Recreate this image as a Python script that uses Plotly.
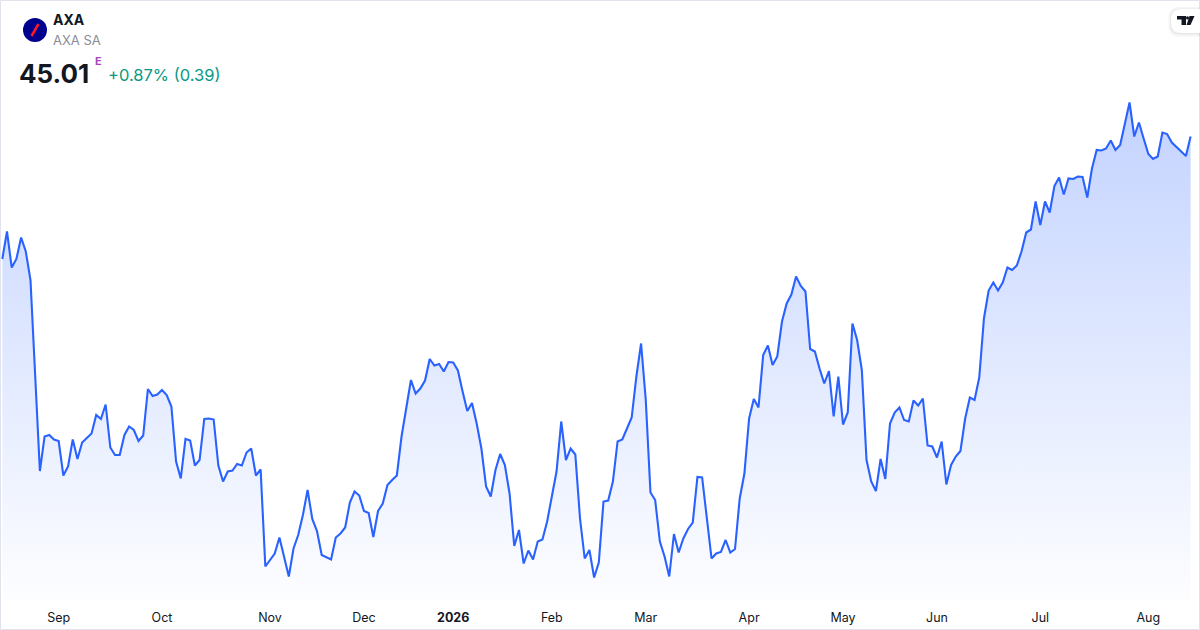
import pandas as pd
import plotly.graph_objects as go

# --- data -------------------------------------------------------------
symbol = "AXA"
company = "AXA SA"
last_price = "45.01"
change_text = "+0.87% (0.39)"

holidays = ["2025-12-24", "2025-12-25", "2025-12-26", "2025-12-31",
            "2026-01-01", "2026-04-03", "2026-04-06", "2026-05-01"]
dates = pd.bdate_range("2025-08-14", "2026-08-14", freq="C",
                       holidays=holidays).strftime("%Y-%m-%d").tolist()

close = [
    42.56, 43.11, 42.39, 42.56, 42.99, 42.71, 42.14, 40.28, 38.32, 39.01,
    39.04, 38.95, 38.92, 38.23, 38.41, 38.95, 38.56, 38.89, 38.99, 39.07,
    39.44, 39.36, 39.65, 38.79, 38.64, 38.64, 39.04, 39.21, 39.14, 38.92,
    39.03, 39.96, 39.82, 39.85, 39.94, 39.84, 39.61, 38.51, 38.17, 38.96,
    38.93, 38.43, 38.54, 39.36, 39.37, 39.35, 38.43, 38.11, 38.31, 38.33,
    38.46, 38.43, 38.69, 38.77, 38.23, 38.35, 36.41, 36.54, 36.67, 36.99,
    36.57, 36.21, 36.77, 37.04, 37.44, 37.94, 37.36, 37.12, 36.64, 36.59,
    36.55, 36.99, 37.07, 37.19, 37.69, 37.91, 37.83, 37.52, 37.48, 37.00,
    37.52, 37.67, 38.04, 38.14, 38.23, 39.01, 39.57, 40.14, 39.87, 39.97,
    40.13, 40.56, 40.43, 40.46, 40.31, 40.50, 40.49, 40.33, 39.91, 39.52,
    39.68, 39.27, 38.77, 38.01, 37.81, 38.34, 38.66, 38.44, 37.87, 36.82,
    37.14, 36.47, 36.73, 36.55, 36.91, 36.95, 37.31, 37.84, 38.31, 39.31,
    38.54, 38.77, 38.65, 37.37, 36.57, 36.74, 36.19, 36.49, 37.71, 37.73,
    38.11, 38.91, 38.95, 39.17, 39.39, 40.21, 40.87, 39.74, 37.89, 37.74,
    36.91, 36.61, 36.21, 37.06, 36.69, 36.97, 37.16, 37.29, 38.20, 38.19,
    37.41, 36.57, 36.67, 36.70, 36.94, 36.69, 36.76, 37.77, 38.27, 39.37,
    39.76, 39.59, 40.64, 40.83, 40.44, 40.61, 41.31, 41.67, 41.85, 42.21,
    42.02, 41.91, 40.76, 40.71, 40.37, 40.07, 40.32, 39.41, 40.21, 39.25,
    39.49, 41.27, 40.94, 40.34, 38.54, 38.11, 37.92, 38.56, 38.16, 39.27,
    39.49, 39.59, 39.34, 39.31, 39.73, 39.63, 39.77, 38.83, 38.81, 38.59,
    38.91, 38.05, 38.44, 38.61, 38.72, 39.37, 39.79, 39.74, 40.19, 41.37,
    41.93, 42.09, 41.93, 42.09, 42.39, 42.34, 42.43, 42.71, 43.09, 43.15,
    43.71, 43.24, 43.71, 43.49, 44.02, 44.19, 43.85, 44.17, 44.16, 44.21,
    44.20, 43.79, 44.37, 44.74, 44.73, 44.77, 44.93, 44.74, 44.84, 45.27,
    45.69, 45.01, 45.29, 44.97, 44.66, 44.56, 44.61, 45.09, 45.06, 44.89,
    44.79, 44.71, 44.62, 45.01,
]

month_labels = ["Sep", "Oct", "Nov", "Dec", "<b>2026</b>", "Feb", "Mar",
                "Apr", "May", "Jun", "Jul", "Aug"]

# first trading day of each month -> tick positions
month_starts = [d for i, d in enumerate(dates[1:], 1) if d[5:7] != dates[i - 1][5:7]]

# --- layout helpers ---------------------------------------------------
W, H, PLOT_H = 1200, 630, 600
BLUE = "#2962ff"
TEXT = "#131722"
FONT = "Inter, Roboto, 'Noto Sans', sans-serif"


def px(x):
    return x / W


def py(y):
    return 1 - y / PLOT_H


def pill(x0, x1, y0, y1, r):
    # rounded on the left side, open to the right edge
    pts = [("M", x0 + r, y0), ("L", x1, y0), ("L", x1, y1), ("L", x0 + r, y1),
           ("Q", x0, y1, x0, y1 - r), ("L", x0, y0 + r), ("Q", x0, y0, x0 + r, y0)]
    out = []
    for p in pts:
        if p[0] == "Q":
            out.append("Q {} {} {} {}".format(px(p[1]), py(p[2]), px(p[3]), py(p[4])))
        else:
            out.append("{} {} {}".format(p[0], px(p[1]), py(p[2])))
    return " ".join(out) + " Z"


fig = go.Figure()

fig.add_trace(go.Scatter(
    x=dates, y=close, mode="lines",
    line=dict(color=BLUE, width=2.1),
    fill="tozeroy",
    fillgradient=dict(type="vertical", start=35.74, stop=45.69,
                      colorscale=[[0, "rgba(41,98,255,0.01)"],
                                  [1, "rgba(41,98,255,0.28)"]]),
    hoverinfo="x+y"))

fig.update_layout(
    width=W, height=H,
    margin=dict(l=0, r=0, t=0, b=H - PLOT_H),
    paper_bgcolor="white", plot_bgcolor="white",
    showlegend=False,
    font=dict(family=FONT, color=TEXT),
    xaxis=dict(type="category", range=[-0.49, 255.0],
               tickvals=month_starts, ticktext=month_labels,
               showgrid=False, zeroline=False, showline=False,
               ticks="outside", ticklen=6, tickcolor="rgba(0,0,0,0)",
               tickfont=dict(size=12.5, color=TEXT, family=FONT)),
    yaxis=dict(range=[35.74, 47.74], visible=False, fixedrange=True),
)

# header
fig.add_annotation(x=px(51), y=py(20), xref="paper", yref="paper", text="<b>" + symbol + "</b>",
                   showarrow=False, xanchor="left", yanchor="middle",
                   font=dict(size=14, color=TEXT, family=FONT))
fig.add_annotation(x=px(51), y=py(40), xref="paper", yref="paper", text=company,
                   showarrow=False, xanchor="left", yanchor="middle",
                   font=dict(size=13, color="#8a8d96", family=FONT))
fig.add_annotation(x=px(17), y=py(73), xref="paper", yref="paper", text="<b>" + last_price + "</b>",
                   showarrow=False, xanchor="left", yanchor="middle",
                   font=dict(size=26, color=TEXT, family=FONT))
fig.add_annotation(x=px(92.5), y=py(61), xref="paper", yref="paper", text="<b>E</b>",
                   showarrow=False, xanchor="left", yanchor="middle",
                   font=dict(size=11, color="#ab47bc", family=FONT))
fig.add_annotation(x=px(106), y=py(75), xref="paper", yref="paper", text=change_text,
                   showarrow=False, xanchor="left", yanchor="middle",
                   font=dict(size=16.5, color="#089981", family=FONT))

shapes = [
    # card border
    dict(type="rect", xref="paper", yref="paper",
         x0=px(0.5), x1=px(1199.5), y0=py(629.5), y1=py(0.5),
         line=dict(color="#e0e3eb", width=1), layer="above"),
    # logo
    dict(type="circle", xref="paper", yref="paper",
         x0=px(23), x1=px(47), y0=py(42), y1=py(18),
         fillcolor="#00008f", line=dict(width=0)),
    dict(type="line", xref="paper", yref="paper",
         x0=px(31.5), x1=px(38.5), y0=py(36), y1=py(24),
         line=dict(color="#ff1721", width=2.5)),
    # TradingView badge
    dict(type="path", xref="paper", yref="paper", path=pill(1168.5, 1206, 7, 36.5, 11),
         fillcolor="rgba(0,0,0,0.04)", line=dict(width=0)),
    dict(type="path", xref="paper", yref="paper", path=pill(1170, 1206, 8.5, 34.5, 10),
         fillcolor="rgba(0,0,0,0.05)", line=dict(width=0)),
    dict(type="path", xref="paper", yref="paper", path=pill(1171, 1206, 9, 33, 10),
         fillcolor="white", line=dict(width=0)),
    dict(type="rect", xref="paper", yref="paper",
         x0=px(1177), x1=px(1186), y0=py(19.5), y1=py(16),
         fillcolor="#131722", line=dict(width=0)),
    dict(type="rect", xref="paper", yref="paper",
         x0=px(1181.5), x1=px(1186), y0=py(25), y1=py(16),
         fillcolor="#131722", line=dict(width=0)),
    dict(type="circle", xref="paper", yref="paper",
         x0=px(1186), x1=px(1189), y0=py(19.5), y1=py(16.3),
         fillcolor="#131722", line=dict(width=0)),
    dict(type="path", xref="paper", yref="paper",
         path="M {} {} L {} {} L {} {} L {} {} Z".format(
             px(1189.5), py(16), px(1194.5), py(16),
             px(1190.5), py(25), px(1186.5), py(25)),
         fillcolor="#131722", line=dict(width=0)),
]
fig.update_layout(shapes=shapes)

# drop the browser's default page margin so the figure sits at the corner
fig.write_html("out.html", config={"displayModeBar": False},
               post_script="document.body.style.margin='0';")
